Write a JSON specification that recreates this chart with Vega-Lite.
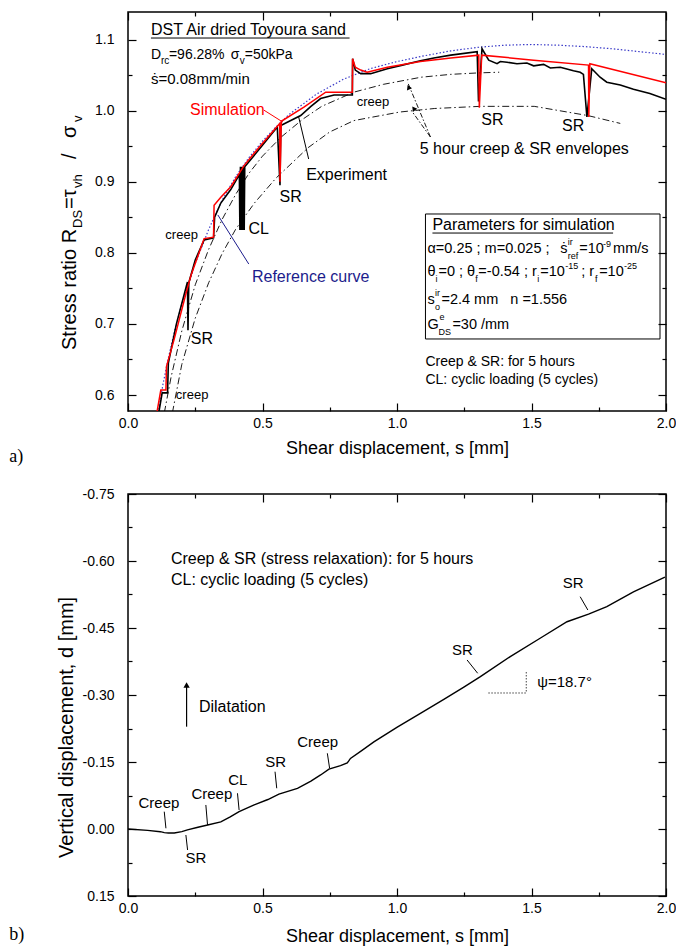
{
"$schema": "https://vega.github.io/schema/vega-lite/v6.json",
"padding": {"left": 8, "top": 10, "right": 4, "bottom": 2},
"spacing": 19,
"config": {
  "font": "Liberation Sans",
  "view": {"stroke": "black", "strokeWidth": 1.5},
  "axis": {"labelFontSize": 14, "titleFontSize": 18, "titleFontWeight": "normal", "labelColor": "black", "titleColor": "black", "tickColor": "black", "domain": false, "grid": false, "tickWidth": 1.2, "labelFont": "Liberation Sans", "titleFont": "Liberation Sans"}
},
"datasets": {
  "simA": [
    {"i":1,"s":0.105,"v":0.570},{"i":2,"s":0.122,"v":0.607},{"i":3,"s":0.141,"v":0.607},{"i":4,"s":0.143,"v":0.640},
    {"i":5,"s":0.172,"v":0.679},{"i":6,"s":0.215,"v":0.742},{"i":7,"s":0.234,"v":0.768},{"i":8,"s":0.283,"v":0.820},
    {"i":9,"s":0.318,"v":0.822},{"i":10,"s":0.320,"v":0.867},{"i":11,"s":0.345,"v":0.878},{"i":12,"s":0.382,"v":0.893},
    {"i":13,"s":0.432,"v":0.923},{"i":14,"s":0.493,"v":0.951},{"i":15,"s":0.564,"v":0.982},{"i":16,"s":0.565,"v":0.900},
    {"i":17,"s":0.570,"v":0.985},{"i":18,"s":0.654,"v":1.005},{"i":19,"s":0.735,"v":1.026},{"i":20,"s":0.834,"v":1.026},
    {"i":21,"s":0.835,"v":1.073},{"i":22,"s":0.845,"v":1.061},{"i":23,"s":0.865,"v":1.057},{"i":24,"s":0.889,"v":1.054},
    {"i":25,"s":0.964,"v":1.061},{"i":26,"s":1.087,"v":1.069},{"i":27,"s":1.200,"v":1.074},{"i":28,"s":1.304,"v":1.078},
    {"i":29,"s":1.306,"v":1.004},{"i":30,"s":1.315,"v":1.078},{"i":31,"s":1.508,"v":1.071},{"i":32,"s":1.712,"v":1.064},
    {"i":33,"s":1.713,"v":0.991},{"i":34,"s":1.717,"v":1.066},{"i":35,"s":2.000,"v":1.039}
  ],
  "expA": [
    {"i":1,"s":0.112,"v":0.570},{"i":2,"s":0.127,"v":0.603},{"i":3,"s":0.147,"v":0.603},{"i":4,"s":0.150,"v":0.645},
    {"i":5,"s":0.180,"v":0.700},{"i":6,"s":0.221,"v":0.759},{"i":7,"s":0.223,"v":0.691},{"i":8,"s":0.226,"v":0.758},
    {"i":9,"s":0.250,"v":0.790},{"i":10,"s":0.283,"v":0.818},{"i":11,"s":0.318,"v":0.821},{"i":12,"s":0.322,"v":0.850},
    {"i":13,"s":0.345,"v":0.870},{"i":14,"s":0.382,"v":0.889},{"i":15,"s":0.414,"v":0.910},{"i":16,"s":0.416,"v":0.832},
    {"i":17,"s":0.418,"v":0.921},{"i":18,"s":0.420,"v":0.832},{"i":19,"s":0.422,"v":0.921},{"i":20,"s":0.424,"v":0.832},
    {"i":21,"s":0.426,"v":0.921},{"i":22,"s":0.428,"v":0.832},{"i":23,"s":0.430,"v":0.921},{"i":24,"s":0.432,"v":0.832},
    {"i":25,"s":0.434,"v":0.921},{"i":26,"s":0.493,"v":0.948},{"i":27,"s":0.555,"v":0.977},{"i":28,"s":0.565,"v":0.895},
    {"i":29,"s":0.568,"v":0.979},{"i":30,"s":0.605,"v":0.986},{"i":31,"s":0.642,"v":0.993},{"i":32,"s":0.680,"v":1.006},
    {"i":33,"s":0.716,"v":1.017},{"i":34,"s":0.766,"v":1.022},{"i":35,"s":0.834,"v":1.022},{"i":36,"s":0.835,"v":1.073},
    {"i":37,"s":0.845,"v":1.057},{"i":38,"s":0.865,"v":1.052},{"i":39,"s":0.902,"v":1.052},{"i":40,"s":0.964,"v":1.059},
    {"i":41,"s":1.020,"v":1.064},{"i":42,"s":1.087,"v":1.070},{"i":43,"s":1.137,"v":1.074},{"i":44,"s":1.200,"v":1.078},
    {"i":45,"s":1.298,"v":1.083},{"i":46,"s":1.303,"v":1.013},{"i":47,"s":1.316,"v":1.087},{"i":48,"s":1.341,"v":1.071},
    {"i":49,"s":1.372,"v":1.066},{"i":50,"s":1.384,"v":1.069},{"i":51,"s":1.409,"v":1.068},{"i":52,"s":1.446,"v":1.066},
    {"i":53,"s":1.483,"v":1.067},{"i":54,"s":1.508,"v":1.063},{"i":55,"s":1.545,"v":1.065},{"i":56,"s":1.570,"v":1.060},
    {"i":57,"s":1.607,"v":1.061},{"i":58,"s":1.656,"v":1.056},{"i":59,"s":1.681,"v":1.054},{"i":60,"s":1.693,"v":1.051},
    {"i":61,"s":1.706,"v":0.991},{"i":62,"s":1.724,"v":1.059},{"i":63,"s":1.755,"v":1.047},{"i":64,"s":1.780,"v":1.040},
    {"i":65,"s":1.830,"v":1.036},{"i":66,"s":1.879,"v":1.030},{"i":67,"s":1.940,"v":1.024},{"i":68,"s":2.000,"v":1.016}
  ],
  "refA": [
    {"s":0.112,"v":0.575},{"s":0.13,"v":0.615},{"s":0.15,"v":0.652},{"s":0.175,"v":0.693},{"s":0.2,"v":0.728},
    {"s":0.25,"v":0.785},{"s":0.3,"v":0.833},{"s":0.35,"v":0.874},{"s":0.4,"v":0.907},{"s":0.45,"v":0.934},
    {"s":0.5,"v":0.957},{"s":0.55,"v":0.977},{"s":0.6,"v":0.995},{"s":0.7,"v":1.023},{"s":0.8,"v":1.044},
    {"s":0.9,"v":1.059},{"s":1.0,"v":1.069},{"s":1.1,"v":1.077},{"s":1.2,"v":1.084},{"s":1.3,"v":1.089},
    {"s":1.4,"v":1.092},{"s":1.5,"v":1.093},{"s":1.6,"v":1.092},{"s":1.7,"v":1.090},{"s":1.8,"v":1.087},
    {"s":1.9,"v":1.083},{"s":2.0,"v":1.079}
  ],
  "envA": [
    {"env":"creep","s":0.135,"v":0.575},{"env":"creep","s":0.16,"v":0.625},{"env":"creep","s":0.2,"v":0.69},
    {"env":"creep","s":0.25,"v":0.755},{"env":"creep","s":0.3,"v":0.805},{"env":"creep","s":0.35,"v":0.847},
    {"env":"creep","s":0.4,"v":0.882},{"env":"creep","s":0.45,"v":0.912},{"env":"creep","s":0.5,"v":0.936},
    {"env":"creep","s":0.57,"v":0.963},{"env":"creep","s":0.65,"v":0.988},{"env":"creep","s":0.72,"v":1.006},
    {"env":"creep","s":0.84,"v":1.026},{"env":"creep","s":0.95,"v":1.037},{"env":"creep","s":1.09,"v":1.047},
    {"env":"creep","s":1.2,"v":1.051},{"env":"creep","s":1.3,"v":1.053},{"env":"creep","s":1.38,"v":1.054},
    {"env":"sr","s":0.165,"v":0.575},{"env":"sr","s":0.2,"v":0.643},{"env":"sr","s":0.25,"v":0.708},
    {"env":"sr","s":0.3,"v":0.758},{"env":"sr","s":0.35,"v":0.799},{"env":"sr","s":0.4,"v":0.833},
    {"env":"sr","s":0.47,"v":0.870},{"env":"sr","s":0.55,"v":0.905},{"env":"sr","s":0.67,"v":0.948},
    {"env":"sr","s":0.75,"v":0.970},{"env":"sr","s":0.84,"v":0.986},{"env":"sr","s":1.01,"v":0.998},
    {"env":"sr","s":1.14,"v":1.003},{"env":"sr","s":1.31,"v":1.006},{"env":"sr","s":1.51,"v":1.006},
    {"env":"sr","s":1.71,"v":0.993},{"env":"sr","s":1.83,"v":0.982}
  ],
  "leadA": [
    {"who":"sim","s":0.5046,"v":1.0008,"s2":0.5751,"v2":0.9840},
    {"who":"k","s":0.6716,"v":0.9319,"s2":0.6345,"v2":0.9910},
    {"who":"ref","s":0.449,"v":0.7842,"s2":0.334,"v2":0.8532}
  ],
  "arrowA": [
    {"s":1.1243,"v":0.9629,"s2":1.039,"v2":1.0402},
    {"s":1.1243,"v":0.9629,"s2":1.0575,"v2":0.998}
  ],
  "headA": [
    {"k":1,"s":1.043,"v":1.033},
    {"k":2,"s":1.062,"v":1.003}
  ],
  "boxA": [{"s":1.1058,"v":0.8546,"s2":1.9777,"v2":0.6788}],
  "ulA": [
    {"s":0.0853,"v":1.1021,"s2":0.8237},
    {"s":1.1317,"v":0.8278,"s2":1.8033}
  ],
  "txtA": [
    {"t":"Simulation","s":0.3692,"v":1.0008,"role":"c16","who":"sim"},
    {"t":"Experiment","s":0.8126,"v":0.9094,"role":"c16","who":"k"},
    {"t":"SR","s":0.6048,"v":0.8785,"role":"c16","who":"k"},
    {"t":"CL","s":0.4861,"v":0.8335,"role":"c16","who":"k"},
    {"t":"Reference curve","s":0.679,"v":0.766,"role":"c16","who":"ref"},
    {"t":"SR","s":0.2746,"v":0.6788,"role":"c16","who":"k"},
    {"t":"SR","s":1.3544,"v":0.9868,"role":"c16","who":"k"},
    {"t":"SR","s":1.6549,"v":0.9783,"role":"c16","who":"k"},
    {"t":"5 hour creep & SR envelopes","s":1.4731,"v":0.946,"role":"c16","who":"k"},
    {"t":"creep","s":0.9109,"v":1.0121,"role":"c13"},
    {"t":"creep","s":0.1993,"v":0.825,"role":"c13"},
    {"t":"creep","s":0.2384,"v":0.600,"role":"c13"},
    {"t":"DST Air dried Toyoura sand","s":0.0853,"v":1.1134,"role":"l16"},
    {"t":"Parameters for simulation","s":1.1317,"v":0.8391,"role":"l16"},
    {"t":"D","s":0.0853,"v":1.0782,"role":"l14b"},
    {"t":"=96.28%","s":0.1521,"v":1.0782,"role":"l14b"},
    {"t":"σ","s":0.3822,"v":1.0782,"role":"l14b"},
    {"t":"=50kPa","s":0.4341,"v":1.0782,"role":"l14b"},
    {"t":"ṡ=0.08mm/min","s":0.0853,"v":1.0444,"role":"l15"},
    {"t":"rc","s":0.1224,"v":1.0698,"role":"sub"},
    {"t":"v","s":0.4156,"v":1.0698,"role":"sub"},
    {"t":"α=0.25 ; m=0.025 ;","s":1.1132,"v":0.8054,"role":"p"},
    {"t":"ṡ","s":1.6067,"v":0.8054,"role":"p"},
    {"t":"ir","s":1.6345,"v":0.8152,"role":"ps"},
    {"t":"ref","s":1.6345,"v":0.7955,"role":"ps"},
    {"t":"=10","s":1.6772,"v":0.8054,"role":"p"},
    {"t":"-9","s":1.7662,"v":0.8124,"role":"ps"},
    {"t":"mm/s","s":1.8033,"v":0.8054,"role":"p"},
    {"t":"θ","s":1.1132,"v":0.7730,"role":"p"},
    {"t":"i","s":1.1429,"v":0.7631,"role":"ps"},
    {"t":"=0 ; θ","s":1.1540,"v":0.7730,"role":"p"},
    {"t":"f","s":1.2913,"v":0.7631,"role":"ps"},
    {"t":"=-0.54 ; r","s":1.3024,"v":0.7730,"role":"p"},
    {"t":"i","s":1.5213,"v":0.7631,"role":"ps"},
    {"t":"=10","s":1.5324,"v":0.7730,"role":"p"},
    {"t":"-15","s":1.6252,"v":0.7814,"role":"ps"},
    {"t":"; r","s":1.6846,"v":0.7730,"role":"p"},
    {"t":"f","s":1.7365,"v":0.7631,"role":"ps"},
    {"t":"=10","s":1.7514,"v":0.7730,"role":"p"},
    {"t":"-25","s":1.8442,"v":0.7814,"role":"ps"},
    {"t":"s","s":1.1132,"v":0.7336,"role":"p"},
    {"t":"ir","s":1.1410,"v":0.7435,"role":"ps"},
    {"t":"o","s":1.1410,"v":0.7238,"role":"ps"},
    {"t":"=2.4 mm","s":1.1651,"v":0.7336,"role":"p"},
    {"t":"n =1.556","s":1.4212,"v":0.7336,"role":"p"},
    {"t":"G","s":1.1132,"v":0.6984,"role":"p"},
    {"t":"e","s":1.1577,"v":0.7097,"role":"ps"},
    {"t":"DS","s":1.1540,"v":0.6885,"role":"ps"},
    {"t":"=30 /mm","s":1.2059,"v":0.6984,"role":"p"},
    {"t":"Creep & SR: for 5 hours","s":1.1058,"v":0.6464,"role":"l14"},
    {"t":"CL: cyclic loading (5 cycles)","s":1.1058,"v":0.6211,"role":"l14"},
    {"t":"a)","s":-0.4416,"v":0.5128,"role":"pl"}
  ],
  "ytA": [
    {"t":"Stress ratio R","s":-0.2156,"v":0.6633,"role":"m"},
    {"t":"DS","s":-0.1859,"v":0.8349,"role":"s"},
    {"t":"=τ","s":-0.2156,"v":0.8616,"role":"m"},
    {"t":"vh","s":-0.1859,"v":0.8911,"role":"s"},
    {"t":"/","s":-0.2156,"v":0.9319,"role":"m"},
    {"t":"σ","s":-0.2156,"v":0.9615,"role":"m"},
    {"t":"v","s":-0.1859,"v":0.984,"role":"s"}
  ],
  "curveB": [
    {"s":0.000,"d":0.000},{"s":0.073,"d":0.003},{"s":0.120,"d":0.006},{"s":0.135,"d":0.008},{"s":0.150,"d":0.009},
    {"s":0.172,"d":0.009},{"s":0.200,"d":0.006},{"s":0.221,"d":0.002},{"s":0.260,"d":-0.004},{"s":0.296,"d":-0.009},
    {"s":0.345,"d":-0.016},{"s":0.380,"d":-0.027},{"s":0.413,"d":-0.039},{"s":0.469,"d":-0.054},{"s":0.520,"d":-0.066},
    {"s":0.561,"d":-0.078},{"s":0.630,"d":-0.091},{"s":0.680,"d":-0.107},{"s":0.716,"d":-0.121},{"s":0.747,"d":-0.134},
    {"s":0.790,"d":-0.142},{"s":0.815,"d":-0.148},{"s":0.820,"d":-0.152},{"s":0.827,"d":-0.158},{"s":0.870,"d":-0.176},
    {"s":0.914,"d":-0.195},{"s":1.001,"d":-0.228},{"s":1.087,"d":-0.259},{"s":1.174,"d":-0.290},{"s":1.250,"d":-0.318},
    {"s":1.310,"d":-0.341},{"s":1.421,"d":-0.386},{"s":1.532,"d":-0.427},{"s":1.632,"d":-0.464},{"s":1.712,"d":-0.481},
    {"s":1.780,"d":-0.498},{"s":1.879,"d":-0.531},{"s":1.996,"d":-0.564}
  ],
  "leadB": [
    {"s":0.1348,"d":-0.0388,"s2":0.141,"d2":-0.0016},
    {"s":0.2152,"d":0.0134,"s2":0.2215,"d2":0.0470},
    {"s":0.2894,"d":-0.0538,"s2":0.2957,"d2":-0.0090},
    {"s":0.407,"d":-0.0800,"s2":0.413,"d2":-0.0426},
    {"s":0.5466,"d":-0.1283,"s2":0.5529,"d2":-0.0912},
    {"s":0.741,"d":-0.1695,"s2":0.7495,"d2":-0.1359},
    {"s":1.2605,"d":-0.3784,"s2":1.30,"d2":-0.3486},
    {"s":1.6809,"d":-0.5201,"s2":1.7094,"d2":-0.4903}
  ],
  "angleB": [
    {"s":1.4805,"d":-0.3515,"s2":1.4805,"d2":-0.3045},
    {"s":1.3395,"d":-0.3045,"s2":1.4805,"d2":-0.3045}
  ],
  "dilB": [{"s":0.2178,"d":-0.2291,"s2":0.2178,"d2":-0.318}],
  "dilHeadB": [{"s":0.2178,"d":-0.3224}],
  "txtB": [
    {"t":"Creep","s":0.115,"d":-0.0583,"role":"c15"},
    {"t":"SR","s":0.2523,"d":0.0649,"role":"c15"},
    {"t":"Creep","s":0.3117,"d":-0.0784,"role":"c15"},
    {"t":"CL","s":0.4082,"d":-0.1097,"role":"c15"},
    {"t":"SR","s":0.5492,"d":-0.1501,"role":"c15"},
    {"t":"Creep","s":0.705,"d":-0.1948,"role":"c15"},
    {"t":"SR","s":1.2430,"d":-0.4008,"role":"c15"},
    {"t":"SR","s":1.6549,"d":-0.5508,"role":"c15"},
    {"t":"ψ=18.7°","s":1.5213,"d":-0.3291,"role":"l15"},
    {"t":"Dilatation","s":0.2635,"d":-0.2732,"role":"l16"},
    {"t":"Creep & SR (stress relaxation): for 5 hours","s":0.1596,"d":-0.6045,"role":"l16"},
    {"t":"CL: cyclic loading (5 cycles)","s":0.1596,"d":-0.5575,"role":"l16"},
    {"t":"b)","s":-0.4416,"d":0.2373,"role":"pl"}
  ]
},
"vconcat": [
  {
    "width": 538, "height": 399,
    "layer": [
      {
        "encoding": {
          "x": {"field": "s", "type": "quantitative",
            "scale": {"domain": [0, 2], "nice": false, "zero": false},
            "axis": {"orient": "bottom", "values": [0,0.5,1,1.5,2], "format": ".1f", "tickSize": -8,
              "labelPadding": 13, "labelFlush": false, "labelOverlap": false,
              "title": "Shear displacement, s [mm]", "titlePadding": 9}},
          "y": {"field": "v", "type": "quantitative",
            "scale": {"domain": [0.5775, 1.1387], "nice": false, "zero": false},
            "axis": {"orient": "left", "values": [0.6,0.7,0.8,0.9,1.0,1.1], "format": ".1f", "tickSize": -8,
              "labelPadding": 22, "labelOverlap": false, "title": null}}
        },
        "layer": [
          {"data": {"name": "envA"}, "mark": {"type": "line", "color": "black", "strokeWidth": 0.9, "strokeDash": [7, 3, 1.5, 3], "clip": true},
           "encoding": {"detail": {"field": "env"}}},
          {"data": {"name": "refA"}, "mark": {"type": "line", "color": "#3a3ac8", "strokeWidth": 1.2, "strokeDash": [1.5, 2], "clip": true},
           "encoding": {}},
          {"data": {"name": "expA"}, "mark": {"type": "line", "color": "black", "strokeWidth": 1.6, "clip": true},
           "encoding": {"order": {"field": "i"}}},
          {"data": {"name": "simA"}, "mark": {"type": "line", "color": "#ff0000", "strokeWidth": 1.5, "clip": true},
           "encoding": {"order": {"field": "i"}}},
          {"data": {"name": "leadA"}, "mark": {"type": "rule", "strokeWidth": 1},
           "encoding": {"x2": {"field": "s2"}, "y2": {"field": "v2"},
             "color": {"field": "who", "type": "nominal", "scale": {"domain": ["k", "sim", "ref"], "range": ["black", "#ff0000", "#1c1c8c"]}, "legend": null}}},
          {"data": {"name": "arrowA"}, "mark": {"type": "rule", "color": "black", "strokeWidth": 0.9, "strokeDash": [5, 2, 1.5, 2]},
           "encoding": {"x2": {"field": "s2"}, "y2": {"field": "v2"}}},
          {"data": {"name": "headA"}, "transform": [{"filter": "datum.k == 1"}],
           "mark": {"type": "point", "shape": "triangle-up", "filled": true, "color": "black", "size": 30, "angle": 337, "opacity": 1}},
          {"data": {"name": "headA"}, "transform": [{"filter": "datum.k == 2"}],
           "mark": {"type": "point", "shape": "triangle-up", "filled": true, "color": "black", "size": 30, "angle": 324, "opacity": 1}},
          {"data": {"name": "boxA"}, "mark": {"type": "rect", "fillOpacity": 0, "stroke": "black", "strokeWidth": 1},
           "encoding": {"x2": {"field": "s2"}, "y2": {"field": "v2"}}},
          {"data": {"name": "ulA"}, "mark": {"type": "rule", "color": "black", "strokeWidth": 1},
           "encoding": {"x2": {"field": "s2"}}},
          {"data": {"name": "txtA"}, "transform": [{"filter": "datum.role == 'c16'"}],
           "mark": {"type": "text", "fontSize": 16, "align": "center", "baseline": "middle"},
           "encoding": {"text": {"field": "t"},
             "color": {"field": "who", "type": "nominal", "scale": {"domain": ["k", "sim", "ref"], "range": ["black", "#ff0000", "#1c1c8c"]}, "legend": null}}},
          {"data": {"name": "txtA"}, "transform": [{"filter": "datum.role == 'c13'"}],
           "mark": {"type": "text", "fontSize": 13, "align": "center", "baseline": "middle", "color": "black"},
           "encoding": {"text": {"field": "t"}}},
          {"data": {"name": "txtA"}, "transform": [{"filter": "datum.role == 'l16'"}],
           "mark": {"type": "text", "fontSize": 16, "align": "left", "baseline": "middle", "color": "black"},
           "encoding": {"text": {"field": "t"}}},
          {"data": {"name": "txtA"}, "transform": [{"filter": "datum.role == 'l15'"}],
           "mark": {"type": "text", "fontSize": 15, "align": "left", "baseline": "middle", "color": "black"},
           "encoding": {"text": {"field": "t"}}},
          {"data": {"name": "txtA"}, "transform": [{"filter": "datum.role == 'l14b'"}],
           "mark": {"type": "text", "fontSize": 14, "align": "left", "baseline": "middle", "color": "black"},
           "encoding": {"text": {"field": "t"}}},
          {"data": {"name": "txtA"}, "transform": [{"filter": "datum.role == 'sub'"}],
           "mark": {"type": "text", "fontSize": 10, "align": "left", "baseline": "middle", "color": "black"},
           "encoding": {"text": {"field": "t"}}},
          {"data": {"name": "txtA"}, "transform": [{"filter": "datum.role == 'p'"}],
           "mark": {"type": "text", "fontSize": 14.5, "align": "left", "baseline": "middle", "color": "black"},
           "encoding": {"text": {"field": "t"}}},
          {"data": {"name": "txtA"}, "transform": [{"filter": "datum.role == 'ps'"}],
           "mark": {"type": "text", "fontSize": 9, "align": "left", "baseline": "middle", "color": "black"},
           "encoding": {"text": {"field": "t"}}},
          {"data": {"name": "txtA"}, "transform": [{"filter": "datum.role == 'l14'"}],
           "mark": {"type": "text", "fontSize": 14, "align": "left", "baseline": "middle", "color": "black"},
           "encoding": {"text": {"field": "t"}}},
          {"data": {"name": "txtA"}, "transform": [{"filter": "datum.role == 'pl'"}],
           "mark": {"type": "text", "fontSize": 18, "font": "Liberation Serif", "align": "left", "baseline": "middle", "color": "black"},
           "encoding": {"text": {"field": "t"}}},
          {"data": {"name": "ytA"}, "transform": [{"filter": "datum.role == 'm'"}],
           "mark": {"type": "text", "fontSize": 20, "angle": 270, "align": "left", "baseline": "middle", "color": "black"},
           "encoding": {"text": {"field": "t"}}},
          {"data": {"name": "ytA"}, "transform": [{"filter": "datum.role == 's'"}],
           "mark": {"type": "text", "fontSize": 13, "angle": 270, "align": "left", "baseline": "middle", "color": "black"},
           "encoding": {"text": {"field": "t"}}}
        ]
      },
      {
        "data": {"name": "boxA"},
        "mark": {"type": "point", "opacity": 0},
        "encoding": {
          "x": {"field": "s", "type": "quantitative", "scale": {"domain": [0, 2], "nice": false, "zero": false},
            "axis": {"orient": "top", "values": [0,0.5,1,1.5,2], "labels": false, "title": null, "tickSize": -8}},
          "y": {"field": "v", "type": "quantitative", "scale": {"domain": [0.5775, 1.1387], "nice": false, "zero": false},
            "axis": {"orient": "right", "values": [0.6,0.7,0.8,0.9,1.0,1.1], "labels": false, "title": null, "tickSize": -8}}
        }
      },
      {
        "data": {"name": "boxA"},
        "mark": {"type": "point", "opacity": 0},
        "encoding": {
          "x": {"field": "s", "type": "quantitative", "scale": {"domain": [0, 2], "nice": false, "zero": false},
            "axis": {"orient": "bottom", "values": [0.25,0.75,1.25,1.75], "labels": false, "title": null, "tickSize": -4}},
          "y": {"field": "v", "type": "quantitative", "scale": {"domain": [0.5775, 1.1387], "nice": false, "zero": false},
            "axis": {"orient": "left", "values": [0.65,0.75,0.85,0.95,1.05], "labels": false, "title": null, "tickSize": -4}}
        }
      },
      {
        "data": {"name": "boxA"},
        "mark": {"type": "point", "opacity": 0},
        "encoding": {
          "x": {"field": "s", "type": "quantitative", "scale": {"domain": [0, 2], "nice": false, "zero": false},
            "axis": {"orient": "top", "values": [0.25,0.75,1.25,1.75], "labels": false, "title": null, "tickSize": -4}},
          "y": {"field": "v", "type": "quantitative", "scale": {"domain": [0.5775, 1.1387], "nice": false, "zero": false},
            "axis": {"orient": "right", "values": [0.65,0.75,0.85,0.95,1.05], "labels": false, "title": null, "tickSize": -4}}
        }
      }
    ],
    "resolve": {"axis": {"x": "independent", "y": "independent"}}
  },
  {
    "width": 538, "height": 402,
    "layer": [
      {
        "encoding": {
          "x": {"field": "s", "type": "quantitative",
            "scale": {"domain": [0, 2], "nice": false, "zero": false},
            "axis": {"orient": "bottom", "values": [0,0.5,1,1.5,2], "format": ".1f", "tickSize": -8,
              "labelPadding": 13, "labelFlush": false, "labelOverlap": false,
              "title": "Shear displacement, s [mm]", "titlePadding": 12}},
          "y": {"field": "d", "type": "quantitative",
            "scale": {"domain": [-0.75, 0.15], "nice": false, "zero": false, "reverse": true},
            "axis": {"orient": "left", "values": [-0.75,-0.6,-0.45,-0.3,-0.15,0,0.15], "tickSize": -8,
              "labelExpr": "datum.value < 0 ? '-' + format(-datum.value, '.2f') : format(datum.value, '.2f')",
              "labelPadding": 22, "labelOverlap": false,
              "title": "Vertical displacement, d [mm]", "titleFontSize": 20, "titleY": 233, "titlePadding": 6}}
        },
        "layer": [
          {"data": {"name": "curveB"}, "mark": {"type": "line", "color": "black", "strokeWidth": 1.4, "clip": true}, "encoding": {}},
          {"data": {"name": "leadB"}, "mark": {"type": "rule", "color": "black", "strokeWidth": 1},
           "encoding": {"x2": {"field": "s2"}, "y2": {"field": "d2"}}},
          {"data": {"name": "angleB"}, "mark": {"type": "rule", "color": "#444444", "strokeWidth": 1, "strokeDash": [1.5, 1.5]},
           "encoding": {"x2": {"field": "s2"}, "y2": {"field": "d2"}}},
          {"data": {"name": "dilB"}, "mark": {"type": "rule", "color": "black", "strokeWidth": 1.2},
           "encoding": {"x2": {"field": "s2"}, "y2": {"field": "d2"}}},
          {"data": {"name": "dilHeadB"}, "mark": {"type": "point", "shape": "triangle-up", "filled": true, "color": "black", "size": 40, "opacity": 1}},
          {"data": {"name": "txtB"}, "transform": [{"filter": "datum.role == 'c15'"}],
           "mark": {"type": "text", "fontSize": 15, "align": "center", "baseline": "middle", "color": "black"},
           "encoding": {"text": {"field": "t"}}},
          {"data": {"name": "txtB"}, "transform": [{"filter": "datum.role == 'l15'"}],
           "mark": {"type": "text", "fontSize": 15, "align": "left", "baseline": "middle", "color": "black"},
           "encoding": {"text": {"field": "t"}}},
          {"data": {"name": "txtB"}, "transform": [{"filter": "datum.role == 'l16'"}],
           "mark": {"type": "text", "fontSize": 16, "align": "left", "baseline": "middle", "color": "black"},
           "encoding": {"text": {"field": "t"}}},
          {"data": {"name": "txtB"}, "transform": [{"filter": "datum.role == 'pl'"}],
           "mark": {"type": "text", "fontSize": 18, "font": "Liberation Serif", "align": "left", "baseline": "middle", "color": "black"},
           "encoding": {"text": {"field": "t"}}}
        ]
      },
      {
        "data": {"name": "dilHeadB"},
        "mark": {"type": "point", "opacity": 0},
        "encoding": {
          "x": {"field": "s", "type": "quantitative", "scale": {"domain": [0, 2], "nice": false, "zero": false},
            "axis": {"orient": "top", "values": [0,0.5,1,1.5,2], "labels": false, "title": null, "tickSize": -8}},
          "y": {"field": "d", "type": "quantitative", "scale": {"domain": [-0.75, 0.15], "nice": false, "zero": false, "reverse": true},
            "axis": {"orient": "right", "values": [-0.75,-0.6,-0.45,-0.3,-0.15,0,0.15], "labels": false, "title": null, "tickSize": -8}}
        }
      },
      {
        "data": {"name": "dilHeadB"},
        "mark": {"type": "point", "opacity": 0},
        "encoding": {
          "x": {"field": "s", "type": "quantitative", "scale": {"domain": [0, 2], "nice": false, "zero": false},
            "axis": {"orient": "bottom", "values": [0.25,0.75,1.25,1.75], "labels": false, "title": null, "tickSize": -4}},
          "y": {"field": "d", "type": "quantitative", "scale": {"domain": [-0.75, 0.15], "nice": false, "zero": false, "reverse": true},
            "axis": {"orient": "left", "values": [-0.675,-0.525,-0.375,-0.225,-0.075,0.075], "labels": false, "title": null, "tickSize": -4}}
        }
      },
      {
        "data": {"name": "dilHeadB"},
        "mark": {"type": "point", "opacity": 0},
        "encoding": {
          "x": {"field": "s", "type": "quantitative", "scale": {"domain": [0, 2], "nice": false, "zero": false},
            "axis": {"orient": "top", "values": [0.25,0.75,1.25,1.75], "labels": false, "title": null, "tickSize": -4}},
          "y": {"field": "d", "type": "quantitative", "scale": {"domain": [-0.75, 0.15], "nice": false, "zero": false, "reverse": true},
            "axis": {"orient": "right", "values": [-0.675,-0.525,-0.375,-0.225,-0.075,0.075], "labels": false, "title": null, "tickSize": -4}}
        }
      }
    ],
    "resolve": {"axis": {"x": "independent", "y": "independent"}}
  }
]
}
